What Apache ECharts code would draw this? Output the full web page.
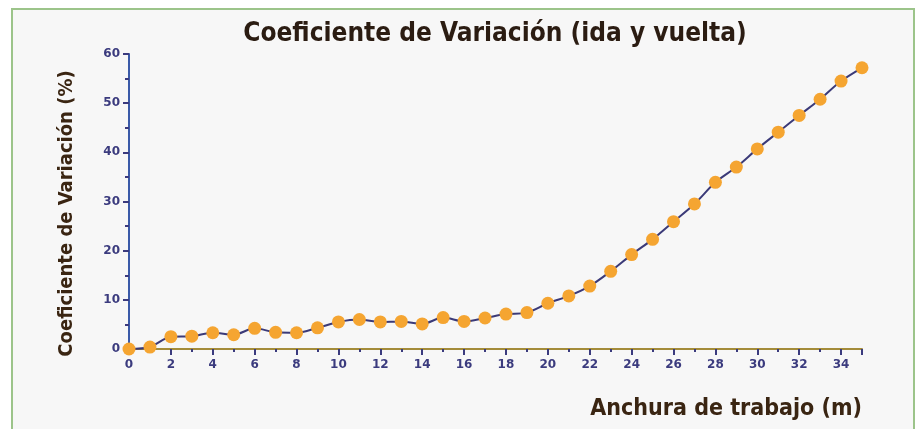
<!DOCTYPE html>
<html><head><meta charset="utf-8">
<script src="https://cdn.jsdelivr.net/npm/echarts@6/dist/echarts.min.js"></script>
<style>
html,body{margin:0;padding:0;background:#ffffff;}
#frame{position:absolute;left:11px;top:8px;width:904px;height:430px;border:2px solid #9cc48a;box-sizing:border-box;background:#f7f7f7;}
#c{position:absolute;left:0;top:0;width:921px;height:429px;}
</style>
</head><body>
<div id="frame"></div>
<div id="c"></div>
<script>
const anchura = [0,1,2,3,4,5,6,7,8,9,10,11,12,13,14,15,16,17,18,19,20,21,22,23,24,25,26,27,28,29,30,31,32,33,34,35];
const coefVariacion = [0,0.4,2.5,2.6,3.3,2.9,4.2,3.4,3.3,4.3,5.5,6.0,5.5,5.6,5.1,6.4,5.6,6.3,7.1,7.4,9.3,10.8,12.8,15.8,19.2,22.3,25.9,29.5,33.9,37.0,40.7,44.1,47.5,50.8,54.5,57.2];
const titulo = 'Coeficiente de Variación (ida y vuelta)';
const nombreX = 'Anchura de trabajo (m)';
const nombreY = 'Coeficiente de Variación (%)';

const condensed = '"DejaVu Sans Condensed", "Liberation Sans Narrow", "Roboto Condensed", "DejaVu Sans", sans-serif';
const chart = echarts.init(document.getElementById('c'), null, {renderer:'canvas'});
const tickFont = {color:'#3b3b7e', fontWeight:'bold', fontSize:12, fontFamily:'"DejaVu Sans", sans-serif'};
chart.setOption({
  backgroundColor:'transparent',
  title:{text:titulo, left:490, top:16, textAlign:'center',
    textStyle:{fontFamily:condensed, fontWeight:'bold', fontSize:26, color:'#2b1c12'}},
  grid:{left:129, right:59, top:54, bottom:80, containLabel:false},
  xAxis:{type:'value', min:0, max:35, interval:2,
    name:nombreX, nameLocation:'end', nameGap:0,
    nameTextStyle:{fontFamily:condensed, fontWeight:'bold', fontSize:23, color:'#3a2512', align:'right', verticalAlign:'top', padding:[49,0,0,0]},
    axisLine:{lineStyle:{color:'#a48c3a', width:2}},
    axisTick:{show:true, length:6, lineStyle:{color:'#3b3b7e', width:2}},
    minorTick:{show:true, splitNumber:2, length:3, lineStyle:{color:'#3b3b7e', width:2}},
    axisLabel:Object.assign({margin:10, showMaxLabel:false}, tickFont),
    splitLine:{show:false}},
  yAxis:{type:'value', min:0, max:60, interval:10,
    name:nombreY, nameLocation:'middle', nameGap:52, nameRotate:90,
    nameTextStyle:{fontFamily:condensed, fontWeight:'bold', fontSize:20, color:'#3a2512', padding:[0,24,0,0]},
    axisLine:{show:true, lineStyle:{color:'#3a5aa8', width:2}},
    axisTick:{show:true, length:6, lineStyle:{color:'#3b3b7e', width:2}},
    minorTick:{show:true, splitNumber:2, length:4, lineStyle:{color:'#3b3b7e', width:2}},
    axisLabel:Object.assign({margin:9}, tickFont),
    splitLine:{show:false}},
  series:[{type:'line', data:anchura.map((x,i)=>[x,coefVariacion[i]]),
    smooth:0.3, symbol:'circle', symbolSize:13,
    lineStyle:{color:'#3b3a78', width:2},
    itemStyle:{color:'#f5a531'}, z:3}]
});
</script>
</body></html>
